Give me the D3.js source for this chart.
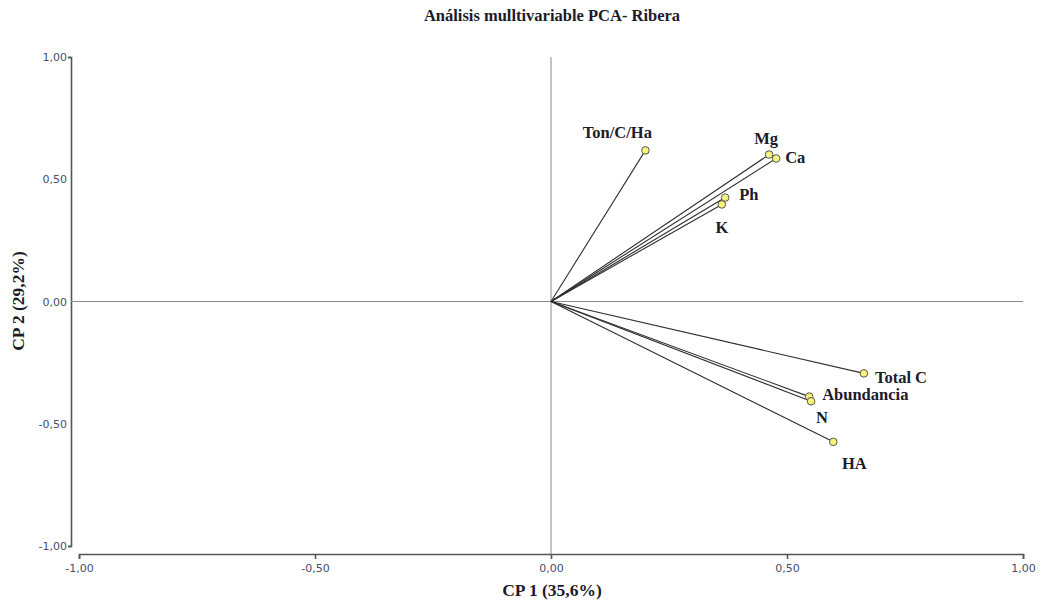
<!DOCTYPE html>
<html>
<head>
<meta charset="utf-8">
<script src="https://cdn.jsdelivr.net/npm/d3@7/dist/d3.min.js"></script>
<style>
  body { margin: 0; background: #fff; }
  svg { display: block; }
</style>
</head>
<body>
<div id="chart"></div>
<script>
// PCA loadings plot — Ribera

var VARIABLES = ['Ton/C/Ha', 'Mg', 'Ca', 'Ph', 'K', 'Total C', 'Abundancia', 'N', 'HA'];
var CP1 = [0.20, 0.462, 0.477, 0.369, 0.362, 0.663, 0.547, 0.551, 0.598];
var CP2 = [0.618, 0.601, 0.585, 0.425, 0.397, -0.294, -0.389, -0.408, -0.574];
var TICKS = [-1, -0.5, 0, 0.5, 1];

// label placement relative to the point: [dx, dy, anchor]
var LABEL_POS = {
  'Ton/C/Ha': [-28, -12, 'middle'],
  'Mg': [-3, -11, 'middle'],
  'Ca': [9, 5, 'start'],
  'Ph': [14, 2, 'start'],
  'K': [0, 29, 'middle'],
  'Total C': [11, 10, 'start'],
  'Abundancia': [13, 3, 'start'],
  'N': [11, 22, 'middle'],
  'HA': [21, 27, 'middle']
};

var W = 1045, H = 602;
var svg = d3.select('#chart').append('svg').attr('width', W).attr('height', H);

var x = d3.scaleLinear().domain([-1, 1]).range([79, 1023]);
var y = d3.scaleLinear().domain([-1, 1]).range([546, 57]);
var fmt = function (d) { return d3.format('.2f')(d).replace('.', ',').replace('\u2212', '-'); };

var serif = '"Liberation Serif", "Times New Roman", serif';
var tickFont = '"DejaVu Sans", Verdana, sans-serif';
var ink = '#1b1b2a';

// title
svg.append('text')
  .attr('x', 552).attr('y', 21)
  .attr('text-anchor', 'middle')
  .style('font-family', serif).style('font-weight', 'bold').style('font-size', '16.5px')
  .attr('fill', ink)
  .text('Análisis mulltivariable PCA- Ribera');

// axes
svg.append('g').attr('transform', 'translate(71,0)')
  .call(d3.axisLeft(y).tickValues([-1, 1]).tickFormat(fmt).tickSize(3).tickPadding(1));
svg.append('g').attr('transform', 'translate(0,554)')
  .call(d3.axisBottom(x).tickValues(TICKS).tickFormat(fmt).tickSize(5).tickPadding(5));

// remaining y tick labels, no marks
svg.append('g').attr('transform', 'translate(71,0)')
  .call(d3.axisLeft(y).tickValues([-0.5, 0, 0.5]).tickFormat(fmt).tickSize(0).tickPadding(4))
  .select('.domain').remove();

svg.selectAll('.domain').attr('stroke', '#555').attr('stroke-width', 1.6);
svg.selectAll('.tick line').attr('stroke', '#555').attr('stroke-width', 1.6);
svg.selectAll('.tick text')
  .style('font-family', tickFont).style('font-size', '11px')
  .attr('fill', '#44506b');

// reference lines through the origin
svg.append('line')
  .attr('x1', 71).attr('x2', x(1)).attr('y1', y(0)).attr('y2', y(0))
  .attr('stroke', '#8a8a8a').attr('stroke-width', 1);
svg.append('line')
  .attr('x1', x(0)).attr('x2', x(0)).attr('y1', y(1)).attr('y2', 554)
  .attr('stroke', '#8a8a8a').attr('stroke-width', 1);

// axis titles
svg.append('text')
  .attr('x', 552).attr('y', 596)
  .attr('text-anchor', 'middle')
  .style('font-family', serif).style('font-weight', 'bold').style('font-size', '17.5px')
  .attr('fill', ink)
  .text('CP 1 (35,6%)');
svg.append('text')
  .attr('transform', 'translate(24,301) rotate(-90)')
  .attr('text-anchor', 'middle')
  .style('font-family', serif).style('font-weight', 'bold').style('font-size', '17.5px')
  .attr('fill', ink)
  .text('CP 2 (29,2%)');

var data = VARIABLES.map(function (v, i) {
  return { name: v, cp1: CP1[i], cp2: CP2[i] };
});

// loading vectors
svg.append('g').selectAll('line')
  .data(data)
  .join('line')
  .attr('x1', x(0)).attr('y1', y(0))
  .attr('x2', function (d) { return x(d.cp1); })
  .attr('y2', function (d) { return y(d.cp2); })
  .attr('stroke', '#2e2e2e').attr('stroke-width', 1.1);

svg.append('g').selectAll('circle')
  .data(data)
  .join('circle')
  .attr('cx', function (d) { return x(d.cp1); })
  .attr('cy', function (d) { return y(d.cp2); })
  .attr('r', 3.8)
  .attr('fill', '#f7f47a').attr('stroke', '#555').attr('stroke-width', 1);

svg.append('g').selectAll('text')
  .data(data)
  .join('text')
  .attr('x', function (d) { return x(d.cp1) + LABEL_POS[d.name][0]; })
  .attr('y', function (d) { return y(d.cp2) + LABEL_POS[d.name][1]; })
  .attr('text-anchor', function (d) { return LABEL_POS[d.name][2]; })
  .style('font-family', serif).style('font-weight', 'bold').style('font-size', '16.5px')
  .attr('fill', ink)
  .text(function (d) { return d.name; });
</script>
</body>
</html>
